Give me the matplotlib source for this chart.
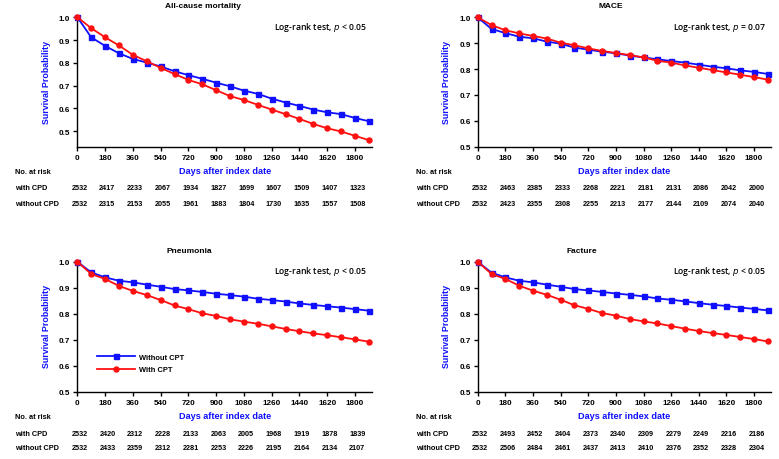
import matplotlib.pyplot as plt
from matplotlib.transforms import blended_transform_factory

plt.rcParams['font.family'] = ['Liberation Sans', 'DejaVu Sans']

W, H = 779, 460

# time points (days) for the curves
days = [0, 90, 180, 270, 360, 450, 540, 630, 720, 810, 900, 990,
        1080, 1170, 1260, 1350, 1440, 1530, 1620, 1710, 1800, 1890]
risk_days = [0, 180, 360, 540, 720, 900, 1080, 1260, 1440, 1620, 1800]

# All-cause mortality
mort_without = [1.0, 0.912, 0.874, 0.842, 0.817, 0.801, 0.784, 0.763, 0.746, 0.730, 0.713,
                0.697, 0.678, 0.664, 0.643, 0.626, 0.611, 0.595, 0.583, 0.575, 0.558, 0.544]
mort_with = [1.0, 0.952, 0.912, 0.876, 0.835, 0.807, 0.778, 0.751, 0.725, 0.706, 0.680,
             0.654, 0.637, 0.616, 0.595, 0.575, 0.554, 0.532, 0.513, 0.499, 0.480, 0.461]
mort_risk_with = [2532, 2417, 2233, 2067, 1934, 1827, 1699, 1607, 1509, 1407, 1323]
mort_risk_without = [2532, 2315, 2153, 2055, 1961, 1883, 1804, 1730, 1635, 1557, 1508]

# MACE
mace_without = [1.0, 0.955, 0.939, 0.925, 0.919, 0.906, 0.898, 0.883, 0.875, 0.867, 0.861,
                0.852, 0.845, 0.838, 0.831, 0.825, 0.817, 0.809, 0.803, 0.795, 0.789, 0.781]
mace_with = [1.0, 0.970, 0.950, 0.938, 0.928, 0.918, 0.902, 0.892, 0.880, 0.870, 0.862,
             0.854, 0.845, 0.832, 0.825, 0.814, 0.805, 0.796, 0.787, 0.778, 0.769, 0.759]
mace_risk_with = [2532, 2463, 2385, 2333, 2268, 2221, 2181, 2131, 2086, 2042, 2000]
mace_risk_without = [2532, 2423, 2355, 2308, 2255, 2213, 2177, 2144, 2109, 2074, 2040]

# Pneumonia
pneu_without = [1.0, 0.959, 0.940, 0.927, 0.921, 0.912, 0.904, 0.895, 0.890, 0.884, 0.877,
                0.872, 0.866, 0.858, 0.853, 0.847, 0.840, 0.834, 0.829, 0.824, 0.818, 0.812]
pneu_with = [1.0, 0.953, 0.934, 0.907, 0.888, 0.872, 0.853, 0.832, 0.818, 0.802, 0.792,
             0.779, 0.770, 0.762, 0.752, 0.742, 0.733, 0.725, 0.718, 0.710, 0.702, 0.693]
pneu_risk_with = [2532, 2420, 2312, 2228, 2133, 2063, 2005, 1968, 1919, 1878, 1839]
pneu_risk_without = [2532, 2433, 2359, 2312, 2281, 2253, 2226, 2195, 2164, 2134, 2107]

# Facture
frac_without = [1.0, 0.958, 0.940, 0.927, 0.921, 0.912, 0.904, 0.895, 0.890, 0.884, 0.878,
                0.873, 0.867, 0.859, 0.854, 0.848, 0.841, 0.835, 0.830, 0.824, 0.819, 0.813]
frac_with = [1.0, 0.953, 0.934, 0.908, 0.889, 0.873, 0.854, 0.833, 0.819, 0.803, 0.793,
             0.780, 0.771, 0.763, 0.753, 0.743, 0.734, 0.726, 0.719, 0.711, 0.703, 0.694]
frac_risk_with = [2532, 2493, 2452, 2404, 2373, 2340, 2309, 2279, 2249, 2216, 2186]
frac_risk_without = [2532, 2506, 2484, 2461, 2437, 2413, 2410, 2376, 2352, 2328, 2304]

BLUE = '#1010ff'
RED = '#ff1010'

fig = plt.figure(figsize=(W / 100, H / 100), dpi=100)


def px(x0, y_top, y_bot, x1):
    # pixel box -> figure fraction
    return [x0 / W, 1 - y_bot / H, (x1 - x0) / W, (y_bot - y_top) / H]


def panel(box, ylow, title, title_x, ptext, y_without, y_with, r_with, r_without,
          title_y, p_y, xlab_y, row1_y, row2_y, legend=False):
    ax = fig.add_axes(px(*box))
    ax.plot(days, y_without, color=BLUE, marker='s', ms=3.6, lw=1.3,
            clip_on=False, zorder=3, label='Without CPT')
    ax.plot(days, y_with, color=RED, marker='o', ms=3.6, lw=1.3,
            clip_on=False, zorder=4, label='With CPT')
    ax.set_xlim(0, 1910)
    ax.set_ylim(ylow, 1.007)
    ax.set_xticks(risk_days)
    ax.set_yticks([0.5, 0.6, 0.7, 0.8, 0.9, 1.0])
    ax.set_yticklabels(['0.5', '0.6', '0.7', '0.8', '0.9', '1.0'])
    ax.spines['top'].set_visible(False)
    ax.spines['right'].set_visible(False)
    for s in ('left', 'bottom'):
        ax.spines[s].set_linewidth(1.0)
    ax.tick_params(labelsize=5.9, length=3, width=1.0, pad=2)
    for lab in ax.get_xticklabels() + ax.get_yticklabels():
        lab.set_fontweight('bold')
    ax.set_ylabel('Survival Probability', color=BLUE, fontsize=6.4,
                  fontweight='bold', labelpad=6)

    x_mid = (box[0] + box[3]) / 2
    fig.text(title_x / W, 1 - title_y / H, title, ha='center', va='center',
             fontsize=6, fontweight='bold')
    fig.text((box[3] - 5) / W, 1 - p_y / H,
             'Log-rank test, $\\mathit{p}$ ' + ptext, ha='right', va='center',
             fontsize=6.2, fontweight='semibold',
             family=['Open Sans', 'DejaVu Sans'])
    fig.text(x_mid / W, 1 - xlab_y / H, 'Days after index date',
             color=BLUE, ha='center', va='center', fontsize=6.6, fontweight='bold')

    left = box[0] - 62
    fig.text(left / W, 1 - (xlab_y + 1) / H, 'No. at risk', ha='left',
             va='center', fontsize=5.3, fontweight='bold')
    fig.text(left / W, 1 - row1_y / H, 'with CPD', ha='left', va='center',
             fontsize=5.3, fontweight='bold')
    fig.text(left / W, 1 - row2_y / H, 'without CPD', ha='left', va='center',
             fontsize=5.3, fontweight='bold')
    tr = blended_transform_factory(ax.transData, fig.transFigure)
    for d, a, b in zip(risk_days, r_with, r_without):
        ax.text(d + 15, 1 - row1_y / H, str(a), transform=tr, ha='center',
                va='center', fontsize=5.2, fontweight='bold')
        ax.text(d + 15, 1 - row2_y / H, str(b), transform=tr, ha='center',
                va='center', fontsize=5.2, fontweight='bold')

    if legend:
        ax.legend(loc='lower left', bbox_to_anchor=(0.045, 0.09), frameon=False,
                  prop={'weight': 'bold', 'size': 5.4},
                  handlelength=5.0, handletextpad=0.6, labelspacing=0.7)
    return ax


# box = (x0, y_top, y_bot, x1) in pixels
panel((77.3, 16.6, 148, 372), 0.431, 'All-cause mortality', 203, '< 0.05',
      mort_without, mort_with, mort_risk_with, mort_risk_without,
      6, 27, 172, 189, 205)
panel((477.7, 16.5, 147.7, 771), 0.5, 'MACE', 611, '= 0.07',
      mace_without, mace_with, mace_risk_with, mace_risk_without,
      6, 27, 172, 189, 205)
panel((77.3, 260.9, 393, 372), 0.5, 'Pneumonia', 189, '< 0.05',
      pneu_without, pneu_with, pneu_risk_with, pneu_risk_without,
      251.5, 272, 417, 435, 449, legend=True)
panel((477.7, 260.9, 393, 771), 0.5, 'Facture', 582, '< 0.05',
      frac_without, frac_with, frac_risk_with, frac_risk_without,
      251.5, 272, 417, 435, 449)

fig.savefig('out.png', dpi=100)
